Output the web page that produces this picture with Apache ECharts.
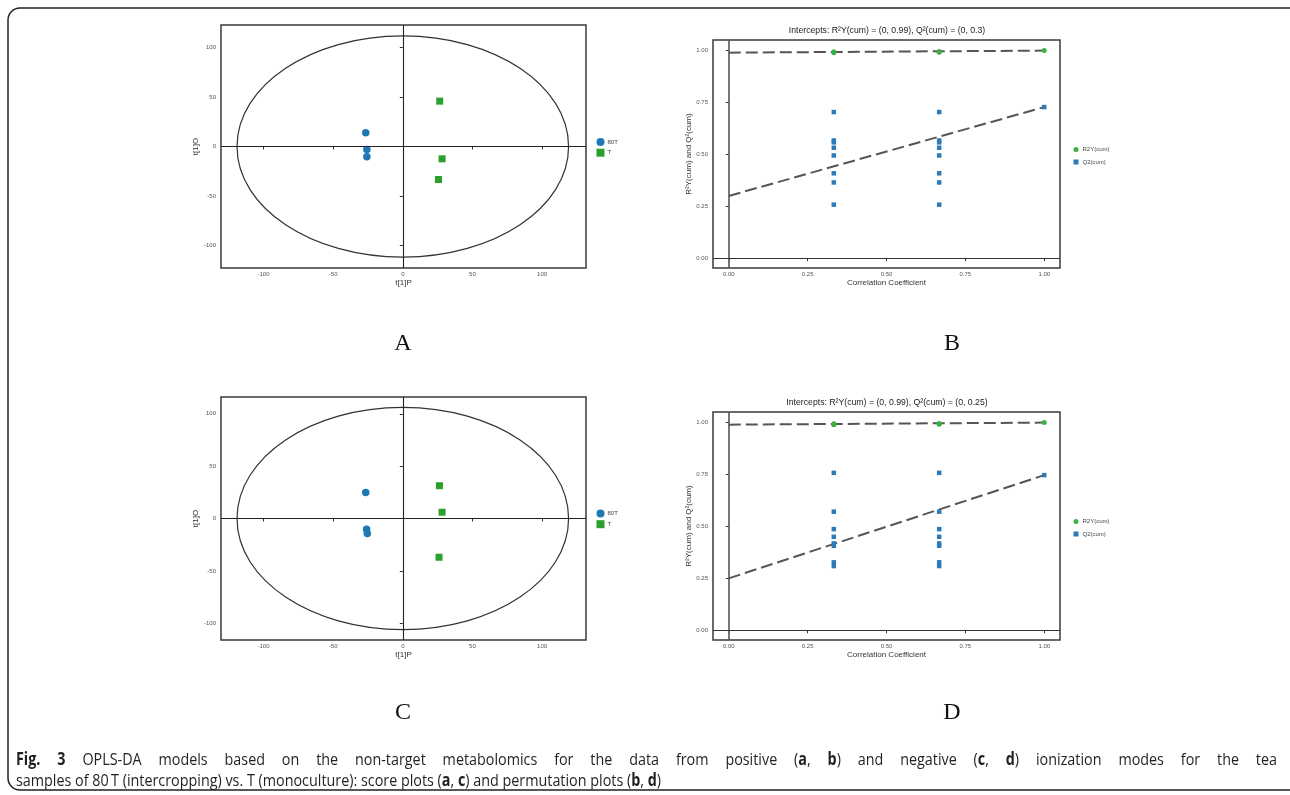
<!DOCTYPE html>
<html><head><meta charset="utf-8">
<script src="https://cdn.jsdelivr.net/npm/echarts@6/dist/echarts.min.js"></script>
<style>html,body{margin:0;padding:0;background:#fff}#c{width:1290px;height:795px}</style>
</head><body><div id="c"></div>
<script>
// ---------- data ----------
const scoreGroups = ['80T', 'T'];
const scoreA_80T = [[-26.6, 13.9], [-25.8, -3.0], [-25.8, -10.5]];
const scoreA_T = [[26.5, 45.9], [28.2, -12.5], [25.6, -33.4]];
const scoreC_80T = [[-26.6, 24.9], [-26.0, -10.2], [-25.5, -14.4]];
const scoreC_T = [[26.3, 31.3], [28.2, 6.0], [26.0, -37.0]];
const ellipseA = [0, 0, 119, 112];   // centre x, centre y, radius x, radius y
const ellipseC = [0, 0, 119, 106];
const scoreTicks = [-100, -50, 0, 50, 100];

const permNames = ['R2Y(cum)', 'Q2(cum)'];
const permTicks = [0, 0.25, 0.5, 0.75, 1];
const r2B = [[0.333, 0.990], [0.333, 0.995], [0.667, 0.992], [0.667, 0.996], [1, 1.0]];
const q2B = [[0.333, 0.704], [0.333, 0.567], [0.333, 0.558], [0.333, 0.532], [0.333, 0.495], [0.333, 0.409], [0.333, 0.365], [0.333, 0.258],
             [0.667, 0.704], [0.667, 0.567], [0.667, 0.558], [0.667, 0.532], [0.667, 0.495], [0.667, 0.409], [0.667, 0.365], [0.667, 0.258],
             [1, 0.728]];
const r2LineB = [[0, 0.99], [1, 1.0]];
const q2LineB = [[0, 0.30], [1, 0.728]];
const r2D = [[0.333, 0.990], [0.333, 0.995], [0.667, 0.992], [0.667, 0.996], [1, 1.0]];
const q2D = [[0.333, 0.758], [0.333, 0.571], [0.333, 0.487], [0.333, 0.450], [0.333, 0.418], [0.333, 0.407], [0.333, 0.327], [0.333, 0.309],
             [0.667, 0.758], [0.667, 0.571], [0.667, 0.487], [0.667, 0.450], [0.667, 0.418], [0.667, 0.407], [0.667, 0.327], [0.667, 0.309],
             [1, 0.747]];
const r2LineD = [[0, 0.99], [1, 1.0]];
const q2LineD = [[0, 0.25], [1, 0.747]];
const titleB = 'Intercepts: R\u00B2Y(cum) = (0, 0.99), Q\u00B2(cum) = (0, 0.3)';
const titleD = 'Intercepts: R\u00B2Y(cum) = (0, 0.99), Q\u00B2(cum) = (0, 0.25)';
const panelLabels = ['A', 'B', 'C', 'D'];
const captionLines = [
  '{b|Fig.} {b|3} OPLS-DA models based on the non-target metabolomics for the data from positive ({b|a}, {b|b}) and negative ({b|c}, {b|d}) ionization modes for the tea',
  'samples of 80\u2009T (intercropping) vs. T (monoculture): score plots ({b|a}, {b|c}) and permutation plots ({b|b}, {b|d})'
];

// ---------- styles ----------
const BLUE = '#1f78b4', GREEN = '#2ca02c', GREEN2 = '#3cb043', QBLUE = '#2b7bba';
const tickFont = { fontSize: 6, color: '#555', fontFamily: 'Liberation Sans' };
const nameFont = { fontSize: 8, color: '#333', fontFamily: 'Liberation Sans' };

function scoreX(grid) {
  return { gridIndex: grid, type: 'value', min: -130.5, max: 131.5,
    name: 't[1]P', nameLocation: 'middle', nameGap: 11, nameTextStyle: nameFont,
    axisLine: { show: false }, splitLine: { show: false },
    axisTick: { show: true, length: 3, lineStyle: { color: '#333' }, customValues: scoreTicks },
    axisLabel: Object.assign({ margin: 3, customValues: scoreTicks }, tickFont) };
}
function scoreY(grid, lim) {
  return { gridIndex: grid, type: 'value', min: -lim, max: lim,
    name: 't[1]O', nameLocation: 'middle', nameGap: 11, nameRotate: 90, nameTextStyle: nameFont,
    axisLine: { show: false }, splitLine: { show: false },
    axisTick: { show: true, length: 3, lineStyle: { color: '#333' }, customValues: scoreTicks },
    axisLabel: Object.assign({ margin: 5, customValues: scoreTicks }, tickFont) };
}
function permX(grid) {
  return { gridIndex: grid, type: 'value', min: -0.05, max: 1.05,
    name: 'Correlation Coefficient', nameLocation: 'middle', nameGap: 11, nameTextStyle: nameFont,
    axisLine: { show: false }, splitLine: { show: false },
    axisTick: { show: true, length: 3, lineStyle: { color: '#333' }, customValues: permTicks },
    axisLabel: Object.assign({ margin: 3, customValues: permTicks, formatter: v => v.toFixed(2) }, tickFont) };
}
function permY(grid) {
  return { gridIndex: grid, type: 'value', min: -0.047, max: 1.051,
    name: 'R\u00B2Y(cum) and Q\u00B2(cum)', nameLocation: 'middle', nameGap: 12, nameRotate: 90, nameTextStyle: nameFont,
    axisLine: { show: false }, splitLine: { show: false },
    axisTick: { show: true, length: 3, lineStyle: { color: '#333' }, customValues: permTicks },
    axisLabel: Object.assign({ margin: 5, customValues: permTicks, formatter: v => v.toFixed(2) }, tickFont) };
}
const gridStyle = { show: true, borderColor: '#3a3a3a', borderWidth: 1.5, backgroundColor: 'transparent', containLabel: false };

function ellipseSeries(idx, e) {
  return { type: 'custom', xAxisIndex: idx, yAxisIndex: idx, silent: true, z: 1,
    data: [e],
    renderItem: function (params, api) {
      const c = api.coord([api.value(0), api.value(1)]);
      const s = api.size([api.value(2), api.value(3)]);
      return { type: 'ellipse', shape: { cx: c[0], cy: c[1], rx: s[0], ry: s[1] },
        style: { fill: 'none', stroke: '#333', lineWidth: 1.2 } };
    } };
}
const zeroLinesScore = { silent: true, symbol: 'none', label: { show: false },
  lineStyle: { color: '#222', width: 1.1, type: 'solid' }, emphasis: { disabled: true },
  data: [{ xAxis: 0 }, { yAxis: 0 }] };
const zeroLinesPerm = { silent: true, symbol: 'none', label: { show: false },
  lineStyle: { color: '#333', width: 1, type: 'solid' }, emphasis: { disabled: true },
  data: [{ xAxis: 0, lineStyle: { width: 1.6, color: '#555' } }, { yAxis: 0 }] };

function scoreSeries(idx, circ, sq) {
  return [
    { name: scoreGroups[0], type: 'scatter', xAxisIndex: idx, yAxisIndex: idx, symbol: 'circle', symbolSize: 7.5,
      itemStyle: { color: BLUE, opacity: 1 }, z: 3, data: circ, markLine: zeroLinesScore },
    { name: scoreGroups[1], type: 'scatter', xAxisIndex: idx, yAxisIndex: idx, symbol: 'rect', symbolSize: 7,
      itemStyle: { color: GREEN, opacity: 1 }, z: 3, data: sq }
  ];
}
function permSeries(idx, r2, q2, r2L, q2L) {
  const dash = { type: [12, 5], width: 2, color: '#555' };
  return [
    { type: 'line', xAxisIndex: idx, yAxisIndex: idx, data: r2L, showSymbol: false, symbol: 'none', lineStyle: dash, z: 2, silent: true },
    { type: 'line', xAxisIndex: idx, yAxisIndex: idx, data: q2L, showSymbol: false, symbol: 'none', lineStyle: dash, z: 2, silent: true },
    { name: permNames[0], type: 'scatter', xAxisIndex: idx, yAxisIndex: idx, symbol: 'circle', symbolSize: 5,
      itemStyle: { color: GREEN2, opacity: 1 }, z: 3, data: r2 },
    { name: permNames[1], type: 'scatter', xAxisIndex: idx, yAxisIndex: idx, symbol: 'rect', symbolSize: 4.5,
      itemStyle: { color: QBLUE, opacity: 1 }, z: 3, data: q2, markLine: zeroLinesPerm }
  ];
}

function legendScore(top) {
  return { orient: 'vertical', left: 596.5, top: top, itemWidth: 8, itemHeight: 8, itemGap: 2.7,
    selectedMode: false, textStyle: { fontSize: 6, color: '#444', fontFamily: 'Liberation Sans', padding: [0, 0, 0, -2] },
    padding: 0, data: [{ name: scoreGroups[0], icon: 'circle' }, { name: scoreGroups[1], icon: 'rect' }] };
}
function legendPerm(top) {
  return { orient: 'vertical', left: 1073.5, top: top, itemWidth: 5, itemHeight: 5, itemGap: 6.5,
    selectedMode: false, textStyle: { fontSize: 6, color: '#444', fontFamily: 'Liberation Sans', padding: [0, 0, 0, -1] },
    padding: 0, data: [{ name: permNames[0], icon: 'circle' }, { name: permNames[1], icon: 'rect' }] };
}

// ---------- caption layout (condensed glyphs, justified first line) ----------
const cv = document.createElement('canvas').getContext('2d');
const capFamily = 'Open Sans';
const capColor = '#231f20';
const capSize = 17;
const capX0 = 16, capX1 = 1277, capLine2End = 661;
function parseWord(w) {
  const runs = []; const re = /\{b\|([^}]*)\}|([^{]+)/g; let m;
  while ((m = re.exec(w))) runs.push(m[1] !== undefined ? { t: m[1], b: true } : { t: m[2], b: false });
  return runs;
}
function measureWord(w) {
  return parseWord(w).reduce((s, r) => { cv.font = (r.b ? 'bold ' : '') + capSize + 'px "' + capFamily + '"'; return s + cv.measureText(r.t).width; }, 0);
}
function spaceW() { cv.font = capSize + 'px "' + capFamily + '"'; return cv.measureText(' ').width; }
const line2Words = captionLines[1].split(' ');
const line2Natural = line2Words.reduce((s, w) => s + measureWord(w), 0) + (line2Words.length - 1) * spaceW();
const capScale = (capLine2End - capX0) / line2Natural;
function captionElements(line, y, justify) {
  const words = line.split(' ');
  const widths = words.map(w => measureWord(w) * capScale);
  const total = widths.reduce((a, b) => a + b, 0);
  const gap = justify ? (capX1 - capX0 - total) / (words.length - 1) : spaceW() * capScale;
  let x = capX0; const els = [];
  words.forEach((w, i) => {
    els.push({ type: 'text', x: x, y: y, scaleX: capScale, silent: true, style: { text: w, fontFamily: capFamily, fontSize: capSize, fill: capColor,
      verticalAlign: 'middle', rich: { b: { fontFamily: capFamily, fontSize: capSize, fontWeight: 'bold', fill: capColor } } } });
    x += widths[i] + gap;
  });
  return els;
}

const chart = echarts.init(document.getElementById('c'), null, { renderer: 'canvas' });
chart.setOption({
  animation: false,
  backgroundColor: '#fff',
  grid: [
    Object.assign({ left: 221, top: 25, width: 365, height: 243 }, gridStyle),
    Object.assign({ left: 713, top: 40, width: 347, height: 228 }, gridStyle),
    Object.assign({ left: 221, top: 397, width: 365, height: 243 }, gridStyle),
    Object.assign({ left: 713, top: 412, width: 347, height: 228 }, gridStyle)
  ],
  xAxis: [scoreX(0), permX(1), scoreX(2), permX(3)],
  yAxis: [scoreY(0, 123), permY(1), scoreY(2, 116), permY(3)],
  legend: [legendScore(138), legendPerm(146.5), legendScore(509.5), legendPerm(518.5)],
  series: [].concat(
    [ellipseSeries(0, ellipseA)], scoreSeries(0, scoreA_80T, scoreA_T),
    permSeries(1, r2B, q2B, r2LineB, q2LineB),
    [ellipseSeries(2, ellipseC)], scoreSeries(2, scoreC_80T, scoreC_T),
    permSeries(3, r2D, q2D, r2LineD, q2LineD)
  ),
  graphic: [
    { type: 'rect', silent: true, shape: { x: 8, y: 8, width: 1300, height: 782, r: 12 },
      style: { fill: 'none', stroke: '#222', lineWidth: 1.5 } },
    { type: 'text', x: 887, y: 31, style: { text: titleB, font: '8.7px "Liberation Sans"', fill: '#222', align: 'center', verticalAlign: 'middle' } },
    { type: 'text', x: 887, y: 403, style: { text: titleD, font: '8.7px "Liberation Sans"', fill: '#222', align: 'center', verticalAlign: 'middle' } },
    { type: 'text', x: 403, y: 344, style: { text: panelLabels[0], font: '24px "Liberation Serif"', fill: '#111', align: 'center', verticalAlign: 'middle' } },
    { type: 'text', x: 952, y: 344, style: { text: panelLabels[1], font: '24px "Liberation Serif"', fill: '#111', align: 'center', verticalAlign: 'middle' } },
    { type: 'text', x: 403, y: 713, style: { text: panelLabels[2], font: '24px "Liberation Serif"', fill: '#111', align: 'center', verticalAlign: 'middle' } },
    { type: 'text', x: 952, y: 713, style: { text: panelLabels[3], font: '24px "Liberation Serif"', fill: '#111', align: 'center', verticalAlign: 'middle' } }
  ].concat(captionElements(captionLines[0], 760, true), captionElements(captionLines[1], 781, false))
});
</script></body></html>
